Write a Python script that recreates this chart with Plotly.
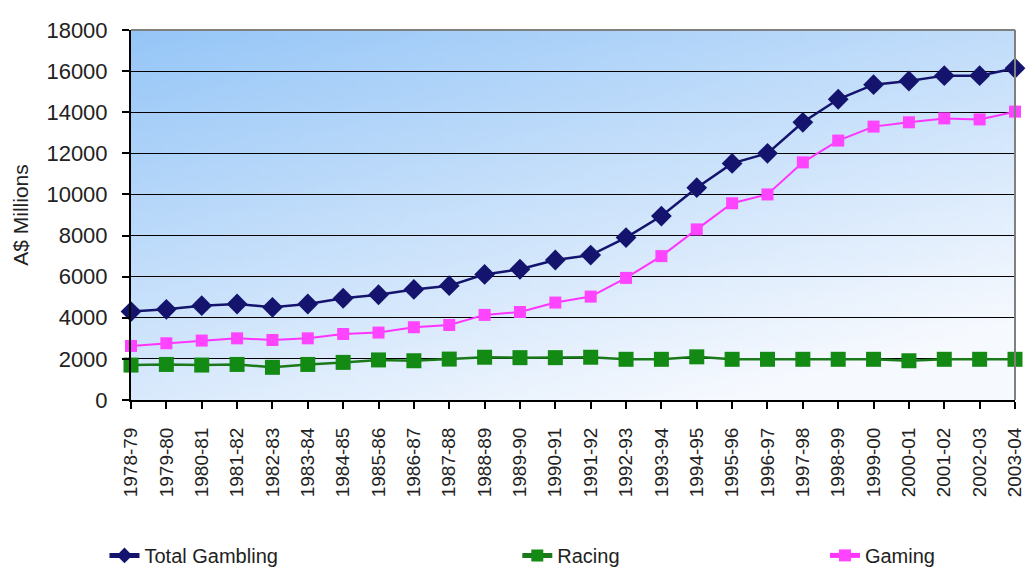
import base64, struct, zlib
import plotly.graph_objects as go

years = ["1978-79", "1979-80", "1980-81", "1981-82", "1982-83", "1983-84", "1984-85",
         "1985-86", "1986-87", "1987-88", "1988-89", "1989-90", "1990-91", "1991-92",
         "1992-93", "1993-94", "1994-95", "1995-96", "1996-97", "1997-98", "1998-99",
         "1999-00", "2000-01", "2001-02", "2002-03", "2003-04"]

total_gambling = [4300, 4410, 4590, 4670, 4510, 4670, 4950, 5120, 5380, 5560, 6110,
                  6360, 6810, 7050, 7900, 8950, 10330, 11510, 12000, 13510, 14630,
                  15340, 15520, 15780, 15780, 16140]
racing = [1700, 1730, 1700, 1730, 1590, 1730, 1830, 1950, 1910, 1990, 2080, 2060,
          2060, 2080, 1980, 1980, 2100, 1980, 1980, 1980, 1980, 1980, 1910, 1980,
          1980, 1980]
gaming = [2630, 2760, 2890, 3000, 2920, 3000, 3210, 3280, 3540, 3650, 4140, 4280,
          4740, 5030, 5940, 7000, 8300, 9570, 10000, 11560, 12620, 13300, 13510,
          13700, 13650, 14030]


def gradient_png(w=120, h=60):
    blue = (150, 198, 247)
    white = (246, 249, 254)
    raw = bytearray()
    for j in range(h):
        raw.append(0)
        v = j / (h - 1)
        for i in range(w):
            u = i / (w - 1)
            f = min(1.0, 0.7 * v + 0.45 * u)
            for k in range(3):
                raw.append(int(round(blue[k] + (white[k] - blue[k]) * f)))

    def chunk(tag, data):
        c = struct.pack(">I", len(data)) + tag + data
        return c + struct.pack(">I", zlib.crc32(tag + data) & 0xffffffff)

    png = b"\x89PNG\r\n\x1a\n"
    png += chunk(b"IHDR", struct.pack(">IIBBBBB", w, h, 8, 2, 0, 0, 0))
    png += chunk(b"IDAT", zlib.compress(bytes(raw), 9))
    png += chunk(b"IEND", b"")
    return "data:image/png;base64," + base64.b64encode(png).decode()


FONT = "Liberation Sans, Arial, sans-serif"

fig = go.Figure()
fig.add_trace(go.Scatter(
    x=years, y=total_gambling, name="Total Gambling", mode="lines+markers",
    line=dict(color="#14146e", width=2.5),
    marker=dict(symbol="diamond", size=16, color="#14146e"),
    cliponaxis=False, legend="legend2"))
fig.add_trace(go.Scatter(
    x=years, y=racing, name="Racing", mode="lines+markers",
    line=dict(color="#1a7a1a", width=2.5),
    marker=dict(symbol="square", size=15, color="#138a13"),
    cliponaxis=False, legend="legend3"))
fig.add_trace(go.Scatter(
    x=years, y=gaming, name="Gaming", mode="lines+markers",
    line=dict(color="#ff33ff", width=2),
    marker=dict(symbol="square", size=12, color="#ff44ff"),
    cliponaxis=False, legend="legend4"))

legend_common = dict(orientation="h", yanchor="middle", y=-0.42, xanchor="left",
                     bgcolor="rgba(0,0,0,0)", font=dict(family=FONT, size=20, color="#222"),
                     itemsizing="constant")

fig.update_layout(
    width=1027, height=567,
    margin=dict(l=131, r=12, t=30, b=167, autoexpand=False),
    paper_bgcolor="white",
    plot_bgcolor="rgba(0,0,0,0)",
    font=dict(family=FONT, color="#222"),
    showlegend=True,
    legend2=dict(x=-0.03, **legend_common),
    legend3=dict(x=0.437, **legend_common),
    legend4=dict(x=0.785, **legend_common),
    images=[dict(source=gradient_png(), xref="paper", yref="paper", x=0, y=1,
                 sizex=1, sizey=1, xanchor="left", yanchor="top",
                 sizing="stretch", layer="below")],
    shapes=[
        dict(type="line", xref="paper", yref="paper", x0=0, x1=1, y0=1, y1=1,
             line=dict(color="#808080", width=2)),
        dict(type="line", xref="paper", yref="paper", x0=1, x1=1, y0=0, y1=1,
             line=dict(color="#808080", width=2)),
    ],
)

fig.update_xaxes(
    type="category", range=[0, 25], showgrid=False, automargin=False,
    showline=True, linecolor="black", linewidth=2,
    ticks="outside", ticklen=7, tickcolor="black", tickwidth=1.5,
    tickangle=-90, tickfont=dict(family=FONT, size=19, color="#222"),
    ticklabelstandoff=11)
fig.update_yaxes(
    range=[0, 18000], dtick=2000, tickformat="d", showgrid=True, gridcolor="black",
    gridwidth=1, automargin=False,
    zeroline=False, showline=True, linecolor="black", linewidth=2,
    ticks="outside", ticklen=7, tickcolor="black", tickwidth=1.5,
    tickfont=dict(family=FONT, size=22, color="#222"), ticklabelstandoff=10,
    title=dict(text="A$ Millions", font=dict(family=FONT, size=21, color="#222"),
               standoff=12))

fig.write_html("out.html")
